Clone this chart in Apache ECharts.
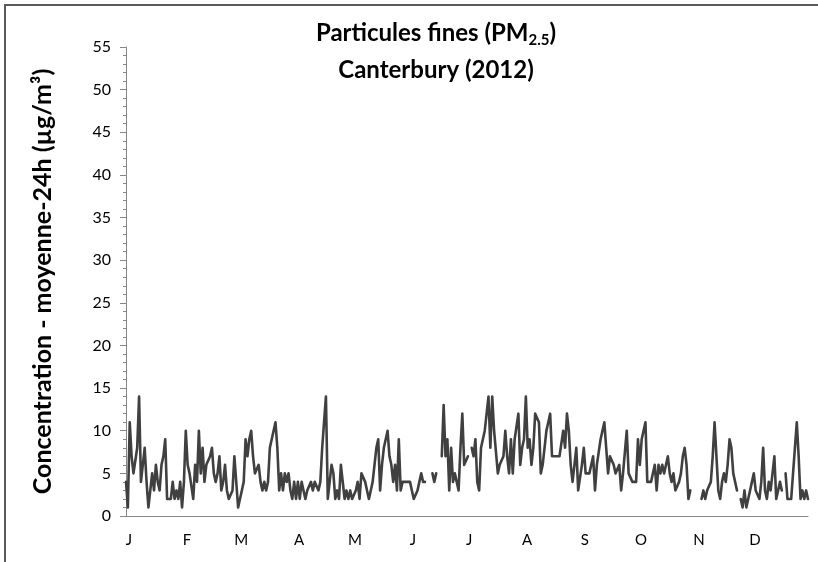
<!DOCTYPE html>
<html>
<head>
<meta charset="utf-8">
<script src="https://cdn.jsdelivr.net/npm/echarts@6.0.0/dist/echarts.min.js"></script>
<style>
html,body{margin:0;padding:0;background:#fff;}
#chart{width:818px;height:562px;}
</style>
</head>
<body>
<div id="chart"></div>
<script>
// Month tick labels and lengths (2012, leap year)
const monthLabels = ['J','F','M','A','M','J','J','A','S','O','N','D'];
const monthLengths = [31,29,31,30,31,30,31,31,30,31,30,31];

// Daily PM2.5 24h means (µg/m³); null = missing day
const pm25Jan = [4,1,11,7,5,5,8,14,4,4, 8,4,1,3,5,3,6,4,3,6, 7,9,2,2,2,4,2,3,2,4, 1];
const pm25Feb = [4,10,6,5,5,2,6,4,10, 5,8,4,6,6,7,8,5,4,5, 7,3,4,6,3,2,2,3,7,7];
const pm25Mar = [1,2,3,4,9,7,9,10,7,5, 5,6,4,3,4,3,4,8,8,10, 11,8,3,5,3,5,4,5,3,2, 4];
const pm25Apr = [2,4,2,4,3,2,3,3,4, 3,4,4,3,4,8,11,14,2,4, 6,5,2,3,2,6,4,2,3,2, 3];
const pm25May = [2,2,3,4,2,5,5,4,3, 2,3,4,6,8,9,3,6,8,9, 10,7,6,4,6,3,9,3,4,4, 4,4];
const pm25Jun = [4,3,2,2,3,4,5,4, 4,null,null,null,5,4,5,null,null,7, 13,7,9,3,8,4,5,4,3,8, 12,6];
const pm25Jul = [6,7,null,8,7,9,4,3, 8,8,10,12,14,8,14,10,10,5, 6,6,7,10,7,5,9,5,9,9, 12,6,8];
const pm25Aug = [9,14,8,9,6,8,12, 12,11,5,6,8,10,10,12,7,7, 7,7,7,7,10,8,12,10,6,4, 4,8,3,3];
const pm25Sep = [6,8,5,5,5,5, 7,3,6,6,9,10,11,8,5,7, 7,6,5,5,6,3,5,5,10,5, 5,4,4,4];
const pm25Oct = [9,6,9,10,11,4, 4,4,4,6,3,6,5,6,5,6, 7,5,4,5,3,3,4,5,7,8, 6,2,3,null,null];
const pm25Nov = [null,null,null,2,3, 2,3,3,4,7,11,7,3,2,4, 5,4,6,9,8,5,5,3,null,2, 1,3,1,2,3];
const pm25Dec = [4,5,3,3,2, 4,8,3,2,4,3,5,7,2,3, 4,3,null,5,2,2,2,5,5,11, 7,2,3,2,3,2];

const values = [].concat(pm25Jan,pm25Feb,pm25Mar,pm25Apr,pm25May,pm25Jun,
                         pm25Jul,pm25Aug,pm25Sep,pm25Oct,pm25Nov,pm25Dec);

// Categories: one per day of 2012
const categories = [];
const monthStarts = new Set();
monthLengths.forEach(function(len, m){
  monthStarts.add(categories.length);
  for (let d = 1; d <= len; d++) {
    categories.push('2012-' + String(m+1).padStart(2,'0') + '-' + String(d).padStart(2,'0'));
  }
});

const FONT = 'Lato, "Open Sans", sans-serif';
const chart = echarts.init(document.getElementById('chart'), null, {renderer:'canvas'});
const option = {
  animation: false,
  backgroundColor: '#fff',
  grid: {left: 126, right: 10, top: 47, bottom: 46},
  xAxis: {
    type: 'category',
    data: categories,
    boundaryGap: false,
    axisLine: {show: true, lineStyle: {color: '#868686', width: 1}},
    axisTick: {show: false},
    splitLine: {show: false},
    axisLabel: {
      interval: function(i){ return monthStarts.has(i); },
      formatter: function(v){ return monthLabels[parseInt(v.slice(5,7),10)-1]; },
      color: '#000', fontSize: 15, fontFamily: FONT, margin: 17,
      padding: [0, 0, 0, 6]
    }
  },
  yAxis: {
    type: 'value', min: 0, max: 55, interval: 5,
    axisLine: {show: true, lineStyle: {color: '#868686', width: 1}},
    axisTick: {show: true, length: 6, lineStyle: {color: '#868686'}},
    minorTick: {show: true, splitNumber: 5, length: 3, lineStyle: {color: '#868686'}},
    splitLine: {show: false},
    axisLabel: {color: '#000', fontSize: 16, fontFamily: FONT, margin: 15},
    name: 'Concentration - moyenne-24h (µg/m³)',
    nameLocation: 'middle',
    nameGap: 71,
    nameTextStyle: {color: '#000', fontSize: 25, fontWeight: 'bold', fontFamily: FONT}
  },
  series: [{
    type: 'line',
    data: values,
    showSymbol: false,
    connectNulls: false,
    lineStyle: {color: '#404040', width: 2.6, join: 'round', cap: 'round'},
    itemStyle: {color: '#404040'}
  }],
  graphic: [
    {type: 'rect', silent: true, shape: {x: 5, y: 5, width: 1000, height: 1000},
     style: {fill: 'none', stroke: '#5a5a5a', lineWidth: 2}},
    {type: 'text', x: 436, y: 33, silent: true,
     style: {
       text: '{a|Particules fines (PM}{s|2.5}{a|)}',
       align: 'center', verticalAlign: 'middle',
       rich: {
         a: {fontSize: 24, fontWeight: 'bold', fontFamily: FONT, fill: '#000', lineHeight: 30},
         s: {fontSize: 15, fontWeight: 'bold', fontFamily: FONT, fill: '#000', lineHeight: 16, verticalAlign: 'bottom'}
       }
     }},
    {type: 'text', x: 436, y: 70, silent: true,
     style: {text: 'Canterbury (2012)', align: 'center', verticalAlign: 'middle',
             fontSize: 24, fontWeight: 'bold', fontFamily: FONT, fill: '#000'}}
  ]
};
chart.setOption(option);
</script>
</body>
</html>
